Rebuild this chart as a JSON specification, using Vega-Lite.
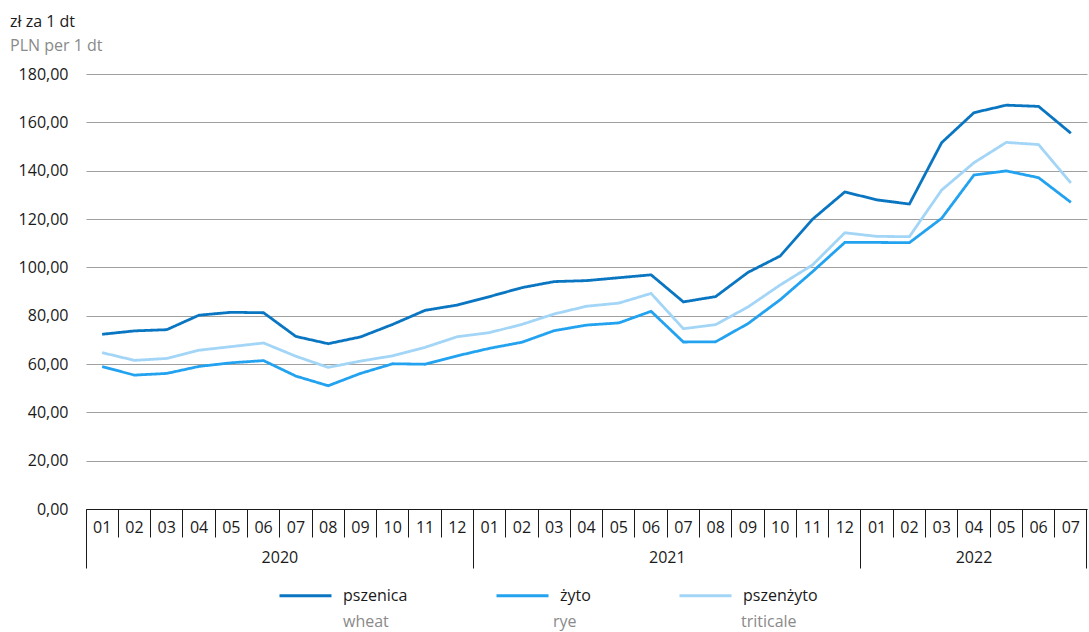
{
  "$schema": "https://vega.github.io/schema/vega-lite/v6.json",
  "width": 1001,
  "height": 435,
  "autosize": {"type": "none"},
  "padding": {"left": 86, "top": 74, "right": 2, "bottom": 123},
  "background": "white",
  "config": {
    "font": "Open Sans",
    "view": {"stroke": null},
    "axis": {"labelFont": "Open Sans", "labelFontSize": 16, "labelColor": "#1a1a1a"},
    "legend": {"labelFont": "Open Sans", "labelFontSize": 16}
  },
  "title": {
    "text": "zł za 1 dt",
    "subtitle": "PLN per 1 dt",
    "anchor": "start",
    "frame": "group",
    "dx": -76,
    "offset": 12,
    "fontSize": 16,
    "fontWeight": "normal",
    "color": "#1a1a1a",
    "subtitleFontSize": 16,
    "subtitleColor": "#8a8a8a",
    "subtitlePadding": 8
  },
  "data": {
    "values": [
      {"ym": "2020-01", "grain": "pszenica", "grain_en": "wheat", "value": 72.3},
      {"ym": "2020-02", "grain": "pszenica", "grain_en": "wheat", "value": 73.7},
      {"ym": "2020-03", "grain": "pszenica", "grain_en": "wheat", "value": 74.2},
      {"ym": "2020-04", "grain": "pszenica", "grain_en": "wheat", "value": 80.2},
      {"ym": "2020-05", "grain": "pszenica", "grain_en": "wheat", "value": 81.4},
      {"ym": "2020-06", "grain": "pszenica", "grain_en": "wheat", "value": 81.2},
      {"ym": "2020-07", "grain": "pszenica", "grain_en": "wheat", "value": 71.4},
      {"ym": "2020-08", "grain": "pszenica", "grain_en": "wheat", "value": 68.4},
      {"ym": "2020-09", "grain": "pszenica", "grain_en": "wheat", "value": 71.2},
      {"ym": "2020-10", "grain": "pszenica", "grain_en": "wheat", "value": 76.4},
      {"ym": "2020-11", "grain": "pszenica", "grain_en": "wheat", "value": 82.2},
      {"ym": "2020-12", "grain": "pszenica", "grain_en": "wheat", "value": 84.4},
      {"ym": "2021-01", "grain": "pszenica", "grain_en": "wheat", "value": 87.9},
      {"ym": "2021-02", "grain": "pszenica", "grain_en": "wheat", "value": 91.6},
      {"ym": "2021-03", "grain": "pszenica", "grain_en": "wheat", "value": 94.1},
      {"ym": "2021-04", "grain": "pszenica", "grain_en": "wheat", "value": 94.5},
      {"ym": "2021-05", "grain": "pszenica", "grain_en": "wheat", "value": 95.7},
      {"ym": "2021-06", "grain": "pszenica", "grain_en": "wheat", "value": 96.9},
      {"ym": "2021-07", "grain": "pszenica", "grain_en": "wheat", "value": 85.7},
      {"ym": "2021-08", "grain": "pszenica", "grain_en": "wheat", "value": 87.9},
      {"ym": "2021-09", "grain": "pszenica", "grain_en": "wheat", "value": 97.9},
      {"ym": "2021-10", "grain": "pszenica", "grain_en": "wheat", "value": 104.7},
      {"ym": "2021-11", "grain": "pszenica", "grain_en": "wheat", "value": 119.9},
      {"ym": "2021-12", "grain": "pszenica", "grain_en": "wheat", "value": 131.2},
      {"ym": "2022-01", "grain": "pszenica", "grain_en": "wheat", "value": 127.9},
      {"ym": "2022-02", "grain": "pszenica", "grain_en": "wheat", "value": 126.2},
      {"ym": "2022-03", "grain": "pszenica", "grain_en": "wheat", "value": 151.6},
      {"ym": "2022-04", "grain": "pszenica", "grain_en": "wheat", "value": 164.0},
      {"ym": "2022-05", "grain": "pszenica", "grain_en": "wheat", "value": 167.1},
      {"ym": "2022-06", "grain": "pszenica", "grain_en": "wheat", "value": 166.6},
      {"ym": "2022-07", "grain": "pszenica", "grain_en": "wheat", "value": 155.5},
      {"ym": "2020-01", "grain": "żyto", "grain_en": "rye", "value": 58.9},
      {"ym": "2020-02", "grain": "żyto", "grain_en": "rye", "value": 55.4},
      {"ym": "2020-03", "grain": "żyto", "grain_en": "rye", "value": 56.1},
      {"ym": "2020-04", "grain": "żyto", "grain_en": "rye", "value": 59.0},
      {"ym": "2020-05", "grain": "żyto", "grain_en": "rye", "value": 60.5},
      {"ym": "2020-06", "grain": "żyto", "grain_en": "rye", "value": 61.4},
      {"ym": "2020-07", "grain": "żyto", "grain_en": "rye", "value": 55.0},
      {"ym": "2020-08", "grain": "żyto", "grain_en": "rye", "value": 51.0},
      {"ym": "2020-09", "grain": "żyto", "grain_en": "rye", "value": 56.1},
      {"ym": "2020-10", "grain": "żyto", "grain_en": "rye", "value": 60.1},
      {"ym": "2020-11", "grain": "żyto", "grain_en": "rye", "value": 59.9},
      {"ym": "2020-12", "grain": "żyto", "grain_en": "rye", "value": 63.4},
      {"ym": "2021-01", "grain": "żyto", "grain_en": "rye", "value": 66.5},
      {"ym": "2021-02", "grain": "żyto", "grain_en": "rye", "value": 69.0},
      {"ym": "2021-03", "grain": "żyto", "grain_en": "rye", "value": 73.8},
      {"ym": "2021-04", "grain": "żyto", "grain_en": "rye", "value": 76.1},
      {"ym": "2021-05", "grain": "żyto", "grain_en": "rye", "value": 77.0},
      {"ym": "2021-06", "grain": "żyto", "grain_en": "rye", "value": 81.8},
      {"ym": "2021-07", "grain": "żyto", "grain_en": "rye", "value": 69.1},
      {"ym": "2021-08", "grain": "żyto", "grain_en": "rye", "value": 69.2},
      {"ym": "2021-09", "grain": "żyto", "grain_en": "rye", "value": 76.7},
      {"ym": "2021-10", "grain": "żyto", "grain_en": "rye", "value": 86.6},
      {"ym": "2021-11", "grain": "żyto", "grain_en": "rye", "value": 98.2},
      {"ym": "2021-12", "grain": "żyto", "grain_en": "rye", "value": 110.3},
      {"ym": "2022-01", "grain": "żyto", "grain_en": "rye", "value": 110.3},
      {"ym": "2022-02", "grain": "żyto", "grain_en": "rye", "value": 110.2},
      {"ym": "2022-03", "grain": "żyto", "grain_en": "rye", "value": 120.3},
      {"ym": "2022-04", "grain": "żyto", "grain_en": "rye", "value": 138.2},
      {"ym": "2022-05", "grain": "żyto", "grain_en": "rye", "value": 139.9},
      {"ym": "2022-06", "grain": "żyto", "grain_en": "rye", "value": 137.1},
      {"ym": "2022-07", "grain": "żyto", "grain_en": "rye", "value": 126.9},
      {"ym": "2020-01", "grain": "pszenżyto", "grain_en": "triticale", "value": 64.7},
      {"ym": "2020-02", "grain": "pszenżyto", "grain_en": "triticale", "value": 61.5},
      {"ym": "2020-03", "grain": "pszenżyto", "grain_en": "triticale", "value": 62.3},
      {"ym": "2020-04", "grain": "pszenżyto", "grain_en": "triticale", "value": 65.7},
      {"ym": "2020-05", "grain": "pszenżyto", "grain_en": "triticale", "value": 67.2},
      {"ym": "2020-06", "grain": "pszenżyto", "grain_en": "triticale", "value": 68.7},
      {"ym": "2020-07", "grain": "pszenżyto", "grain_en": "triticale", "value": 63.2},
      {"ym": "2020-08", "grain": "pszenżyto", "grain_en": "triticale", "value": 58.6},
      {"ym": "2020-09", "grain": "pszenżyto", "grain_en": "triticale", "value": 61.2},
      {"ym": "2020-10", "grain": "pszenżyto", "grain_en": "triticale", "value": 63.4},
      {"ym": "2020-11", "grain": "pszenżyto", "grain_en": "triticale", "value": 66.9},
      {"ym": "2020-12", "grain": "pszenżyto", "grain_en": "triticale", "value": 71.3},
      {"ym": "2021-01", "grain": "pszenżyto", "grain_en": "triticale", "value": 73.0},
      {"ym": "2021-02", "grain": "pszenżyto", "grain_en": "triticale", "value": 76.4},
      {"ym": "2021-03", "grain": "pszenżyto", "grain_en": "triticale", "value": 80.7},
      {"ym": "2021-04", "grain": "pszenżyto", "grain_en": "triticale", "value": 83.9},
      {"ym": "2021-05", "grain": "pszenżyto", "grain_en": "triticale", "value": 85.2},
      {"ym": "2021-06", "grain": "pszenżyto", "grain_en": "triticale", "value": 89.2},
      {"ym": "2021-07", "grain": "pszenżyto", "grain_en": "triticale", "value": 74.6},
      {"ym": "2021-08", "grain": "pszenżyto", "grain_en": "triticale", "value": 76.3},
      {"ym": "2021-09", "grain": "pszenżyto", "grain_en": "triticale", "value": 83.6},
      {"ym": "2021-10", "grain": "pszenżyto", "grain_en": "triticale", "value": 92.7},
      {"ym": "2021-11", "grain": "pszenżyto", "grain_en": "triticale", "value": 101.0},
      {"ym": "2021-12", "grain": "pszenżyto", "grain_en": "triticale", "value": 114.3},
      {"ym": "2022-01", "grain": "pszenżyto", "grain_en": "triticale", "value": 112.8},
      {"ym": "2022-02", "grain": "pszenżyto", "grain_en": "triticale", "value": 112.7},
      {"ym": "2022-03", "grain": "pszenżyto", "grain_en": "triticale", "value": 132.0},
      {"ym": "2022-04", "grain": "pszenżyto", "grain_en": "triticale", "value": 143.3},
      {"ym": "2022-05", "grain": "pszenżyto", "grain_en": "triticale", "value": 151.7},
      {"ym": "2022-06", "grain": "pszenżyto", "grain_en": "triticale", "value": 150.8},
      {"ym": "2022-07", "grain": "pszenżyto", "grain_en": "triticale", "value": 134.9}
    ]
  },
  "layer": [
    {
      "mark": {"type": "line", "strokeWidth": 2.8},
      "encoding": {
        "x": {
          "field": "ym", "type": "ordinal",
          "scale": {"type": "band", "paddingInner": 0, "paddingOuter": 0},
          "axis": {
            "orient": "bottom", "bandPosition": 1, "tickExtra": true, "ticks": true,
            "labelExpr": "isString(datum.value) ? substring(datum.value, 5) : ''",
            "labelOffset": 0, "labelAngle": 0, "labelAlign": "center", "labelBaseline": "middle",
            "labelPadding": -10, "labelOverlap": false, "labelBound": false,
            "tickSize": 28, "tickColor": "#1a1a1a", "tickWidth": 1,
            "domainColor": "#1a1a1a", "domainWidth": 1, "title": null, "grid": false
          }
        },
        "y": {
          "field": "value", "type": "quantitative",
          "scale": {"domain": [0, 180], "nice": false},
          "axis": {
            "values": [0, 20, 40, 60, 80, 100, 120, 140, 160, 180],
            "labelExpr": "replace(format(datum.value, '.2f'), '.', ',')",
            "domain": false, "ticks": false, "grid": true, "gridColor": "#a0a0a0", "gridWidth": 1,
            "labelPadding": 18, "title": null
          }
        },
        "color": {
          "field": "grain", "type": "nominal",
          "scale": {"domain": ["pszenica", "żyto", "pszenżyto"], "range": ["#0a76c2", "#23a2f0", "#a3d5f7"]},
          "legend": {
            "orient": "none", "legendX": 192, "legendY": 494, "direction": "horizontal",
            "title": null, "symbolType": "stroke", "symbolSize": 2704, "symbolStrokeWidth": 3,
            "labelColor": "#1a1a1a", "labelOffset": 10,
            "columnPadding": 82, "labelLimit": 300
          }
        },
        "strokeDash": {
          "field": "grain_en", "type": "nominal",
          "scale": {"domain": ["wheat", "rye", "triticale"], "range": [[1, 0], [1, 0], [1, 0]]},
          "legend": {
            "orient": "none", "legendX": 192, "legendY": 520, "direction": "horizontal",
            "title": null, "symbolType": "stroke", "symbolSize": 2704, "symbolStrokeWidth": 3,
            "symbolOpacity": 0, "symbolStrokeColor": "#ffffff",
            "labelColor": "#8a8a8a", "labelOffset": 10,
            "columnPadding": 99, "labelLimit": 300
          }
        }
      }
    },
    {
      "mark": {"type": "point", "opacity": 0},
      "encoding": {
        "x": {
          "field": "ym", "type": "ordinal",
          "axis": {
            "orient": "bottom", "values": ["2020-07", "2021-07", "2022-04"],
            "ticks": false, "domain": false, "grid": false, "title": null,
            "labelExpr": "substring(datum.value, 0, 4)", "labelAngle": 0, "labelAlign": "center",
            "labelBaseline": "middle", "labelPadding": 48, "labelOverlap": false, "labelBound": false,
            "labelOffset": {"condition": {"test": "datum.value == '2022-04'", "value": 0}, "value": -16}
          }
        }
      }
    },
    {
      "mark": {"type": "point", "opacity": 0},
      "encoding": {
        "x": {
          "field": "ym", "type": "ordinal",
          "axis": {
            "orient": "bottom", "values": ["2020-01", "2021-01", "2022-01"], "bandPosition": 0,
            "ticks": true, "tickSize": 59, "tickColor": "#1a1a1a", "tickWidth": 1,
            "domain": false, "grid": false, "labels": false, "title": null
          }
        }
      }
    },
    {
      "mark": {"type": "point", "opacity": 0},
      "encoding": {
        "x": {
          "field": "ym", "type": "ordinal",
          "axis": {
            "orient": "bottom", "values": ["2022-07"], "bandPosition": 1,
            "ticks": true, "tickSize": 59, "tickColor": "#1a1a1a", "tickWidth": 1,
            "domain": false, "grid": false, "labels": false, "title": null
          }
        }
      }
    }
  ],
  "resolve": {"axis": {"x": "independent"}}
}
